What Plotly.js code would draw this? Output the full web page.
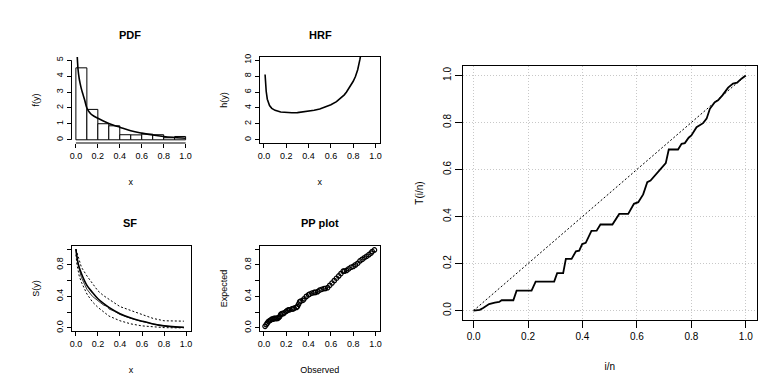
<!DOCTYPE html>
<html>
<head>
<meta charset="utf-8">
<script src="https://cdn.plot.ly/plotly-3.0.1.min.js"></script>
<style>
  html, body { margin: 0; padding: 0; background: #fff; }
  #graph { width: 781px; height: 388px; }
</style>
</head>
<body>
<div id="graph"></div>
<script>
// histogram (density) of the data, bins of width 0.1
const histMid = [0.05, 0.15, 0.25, 0.35, 0.45, 0.55, 0.65, 0.75, 0.85, 0.95];
const histDensity = [4.52, 1.91, 1.01, 0.88, 0.32, 0.31, 0.36, 0.32, 0.13, 0.21];

// fitted pdf
const pdfX = [0.01, 0.015, 0.02, 0.03, 0.04, 0.05, 0.06, 0.08, 0.10, 0.125, 0.15, 0.2, 0.25, 0.3, 0.35, 0.4, 0.5, 0.6, 0.7, 0.8, 0.9, 1.0];
const pdfY = [5.6, 4.9, 4.4, 3.85, 3.5, 3.2, 2.95, 2.5, 2.0, 1.72, 1.55, 1.35, 1.18, 1.03, 0.9, 0.79, 0.57, 0.42, 0.3, 0.21, 0.15, 0.1];

// hazard rate function
const hrfX = [0.01, 0.015, 0.02, 0.03, 0.04, 0.05, 0.07, 0.1, 0.15, 0.2, 0.25, 0.3, 0.35, 0.4, 0.45, 0.5, 0.55, 0.6, 0.65,
  0.7, 0.72, 0.74, 0.76, 0.78, 0.8, 0.82, 0.84, 0.86, 0.88];
const hrfY = [8.2, 7.0, 6.1, 5.1, 4.6, 4.3, 3.95, 3.7, 3.5, 3.42, 3.4, 3.42, 3.5, 3.6, 3.72, 3.88, 4.1, 4.4, 4.8,
  5.35, 5.65, 6.0, 6.4, 6.85, 7.35, 7.95, 8.8, 10.1, 11.6];

// survival function: fitted, empirical and bands
const sfX = [0, 0.02, 0.05, 0.1, 0.15, 0.2, 0.25, 0.3, 0.4, 0.5, 0.6, 0.7, 0.8, 0.9, 0.98];
const sfFit = [1.0, 0.82, 0.69, 0.54, 0.45, 0.37, 0.31, 0.26, 0.18, 0.125, 0.085, 0.05, 0.025, 0.012, 0.008];
const empX = [0, 0.02, 0.05, 0.1, 0.15, 0.2, 0.25, 0.29, 0.3, 0.35, 0.4, 0.5, 0.6, 0.7, 0.8, 0.9, 0.98];
const empY = [1.0, 0.8, 0.64, 0.49, 0.40, 0.34, 0.29, 0.27, 0.24, 0.21, 0.17, 0.12, 0.08, 0.05, 0.025, 0.01, 0.005];
const upX = [0, 0.01, 0.05, 0.1, 0.15, 0.2, 0.25, 0.3, 0.4, 0.5, 0.6, 0.7, 0.8, 0.9, 0.98];
const upY = [1.0, 0.95, 0.77, 0.66, 0.56, 0.47, 0.41, 0.36, 0.27, 0.22, 0.17, 0.12, 0.09, 0.085, 0.085];
const lowX = [0, 0.01, 0.03, 0.05, 0.1, 0.15, 0.2, 0.25, 0.3, 0.4, 0.5, 0.6, 0.7, 0.8, 0.9, 0.98];
const lowY = [0.93, 0.8, 0.66, 0.58, 0.43, 0.33, 0.26, 0.2, 0.15, 0.09, 0.05, 0.025, 0.01, 0.003, 0.0, 0.0];

// PP plot
const observed = [0.01, 0.02, 0.03, 0.04, 0.05, 0.06, 0.07, 0.08, 0.09, 0.10, 0.11, 0.12, 0.13, 0.14, 0.15, 0.16, 0.17, 0.18, 0.20, 0.21,
  0.22, 0.23, 0.25, 0.26, 0.27, 0.29, 0.30, 0.31, 0.32, 0.33, 0.35, 0.36, 0.38, 0.40, 0.41, 0.43, 0.45, 0.46, 0.48, 0.50,
  0.52, 0.54, 0.55, 0.57, 0.59, 0.61, 0.63, 0.65, 0.67, 0.69, 0.71, 0.72, 0.74, 0.76, 0.78, 0.80, 0.82, 0.84, 0.86, 0.88,
  0.90, 0.92, 0.94, 0.96, 0.97, 0.99];
const expected = [0.02, 0.04, 0.06, 0.08, 0.09, 0.10, 0.11, 0.11, 0.12, 0.12, 0.12, 0.12, 0.13, 0.14, 0.17, 0.18, 0.18, 0.19, 0.21, 0.22,
  0.23, 0.23, 0.24, 0.24, 0.25, 0.26, 0.27, 0.30, 0.33, 0.34, 0.35, 0.37, 0.40, 0.42, 0.43, 0.44, 0.45, 0.45, 0.46, 0.48,
  0.49, 0.50, 0.50, 0.51, 0.54, 0.57, 0.60, 0.63, 0.66, 0.69, 0.72, 0.72, 0.73, 0.75, 0.77, 0.78, 0.80, 0.82, 0.85, 0.87,
  0.89, 0.91, 0.93, 0.95, 0.97, 0.99];

// TTT plot
const tttX = [0, 0.023, 0.035, 0.057, 0.078, 0.094, 0.103, 0.146, 0.158, 0.213, 0.228, 0.296, 0.307, 0.329, 0.339, 0.36, 0.376, 0.388,
  0.399, 0.412, 0.433, 0.452, 0.466, 0.51, 0.535, 0.568, 0.589, 0.605, 0.623, 0.638, 0.65, 0.706, 0.717, 0.751, 0.764, 0.776,
  0.79, 0.8, 0.819, 0.843, 0.856, 0.868, 0.886, 0.898, 0.914, 0.935, 0.953, 0.968, 0.984, 0.996, 1.0];
const tttY = [0, 0.003, 0.011, 0.028, 0.034, 0.037, 0.044, 0.044, 0.085, 0.085, 0.123, 0.123, 0.159, 0.159, 0.22, 0.22, 0.252, 0.255,
  0.283, 0.288, 0.339, 0.34, 0.366, 0.366, 0.411, 0.411, 0.454, 0.461, 0.494, 0.546, 0.553, 0.627, 0.685, 0.685, 0.709, 0.712,
  0.735, 0.745, 0.78, 0.797, 0.816, 0.858, 0.886, 0.894, 0.915, 0.948, 0.965, 0.969, 0.986, 0.997, 1.0];
const refLine = [0, 1];

const unitTicks = [0, 0.2, 0.4, 0.6, 0.8, 1.0];
const unitText = ['0.0', '0.2', '0.4', '0.6', '0.8', '1.0'];
const sparseText = ['0.0', '', '0.4', '', '0.8', ''];

const W = 781, H = 388;
const fx = (a, b) => [a / W, b / W];
const fy = (top, bottom) => [1 - bottom / H, 1 - top / H];

function axis(domain, range, vals, text, extra) {
    return Object.assign({
        domain: domain,
        range: range,
        tickmode: 'array',
        tickvals: vals,
        ticktext: text,
        ticks: 'outside',
        ticklen: 4,
        tickwidth: 1,
        tickcolor: '#000',
        showline: true,
        mirror: true,
        linecolor: '#000',
        linewidth: 1,
        showgrid: false,
        zeroline: false,
        fixedrange: true
    }, extra || {});
}

const black = '#000';
const traces = [
    {type: 'bar', x: histMid, y: histDensity, width: 0.1, xaxis: 'x', yaxis: 'y',
     marker: {color: '#fff', line: {color: black, width: 1}}},
    {type: 'scatter', mode: 'lines', x: pdfX, y: pdfY, xaxis: 'x', yaxis: 'y',
     line: {color: black, width: 1.6, shape: 'spline'}},

    {type: 'scatter', mode: 'lines', x: hrfX, y: hrfY, xaxis: 'x2', yaxis: 'y2',
     line: {color: black, width: 1.6}},

    {type: 'scatter', mode: 'lines', x: upX, y: upY, xaxis: 'x3', yaxis: 'y3',
     line: {color: black, width: 1, dash: '2px,2px'}},
    {type: 'scatter', mode: 'lines', x: lowX, y: lowY, xaxis: 'x3', yaxis: 'y3',
     line: {color: black, width: 1, dash: '2px,2px'}},
    {type: 'scatter', mode: 'lines', x: empX, y: empY, xaxis: 'x3', yaxis: 'y3',
     line: {color: black, width: 0.8}},
    {type: 'scatter', mode: 'lines', x: sfX, y: sfFit, xaxis: 'x3', yaxis: 'y3',
     line: {color: black, width: 1.6, shape: 'spline'}},

    {type: 'scatter', mode: 'lines+markers', x: observed, y: expected, xaxis: 'x4', yaxis: 'y4',
     line: {color: '#aaa', width: 0.6},
     marker: {symbol: 'circle-open', size: 4.5, color: black, line: {width: 1.2}}},

    {type: 'scatter', mode: 'lines', x: refLine, y: refLine, xaxis: 'x5', yaxis: 'y5',
     line: {color: black, width: 1, dash: '2px,2px'}},
    {type: 'scatter', mode: 'lines', x: tttX, y: tttY, xaxis: 'x5', yaxis: 'y5',
     line: {color: black, width: 1.8}}
];

const small = {size: 9};
const titleFont = {size: 9};
const layout = {
    width: W, height: H,
    margin: {l: 0, r: 0, t: 0, b: 0},
    paper_bgcolor: '#fff',
    plot_bgcolor: '#fff',
    showlegend: false,
    font: {family: 'Liberation Sans, Arial, sans-serif', size: 9, color: '#000'},

    // PDF (no box, R-style axes drawn as shapes)
    xaxis: axis(fx(71.5, 190), [-0.04, 1.04], unitTicks, unitText,
        {anchor: 'y', showline: false, mirror: false, tickfont: small,
         title: {text: 'x', font: titleFont, standoff: 18}}),
    yaxis: axis(fy(57, 143), [-0.2, 5.2], [0, 1, 2, 3, 4, 5], ['0', '1', '2', '3', '4', '5'],
        {anchor: 'x', showline: false, mirror: false, tickangle: -90, tickfont: small,
         title: {text: 'f(y)', font: titleFont, standoff: 13}}),

    // HRF
    xaxis2: axis(fx(259.5, 380), [-0.04, 1.04], unitTicks, unitText,
        {anchor: 'y2', tickfont: small, title: {text: 'x', font: titleFont, standoff: 18}}),
    yaxis2: axis(fy(57, 143), [-0.4, 10.4], [0, 2, 4, 6, 8, 10], ['0', '2', '4', '6', '8', '10'],
        {anchor: 'x2', tickangle: -90, tickfont: small, title: {text: 'h(y)', font: titleFont, standoff: 13}}),

    // SF
    xaxis3: axis(fx(71.5, 190.5), [-0.04, 1.04], unitTicks, unitText,
        {anchor: 'y3', tickfont: small, title: {text: 'x', font: titleFont, standoff: 18}}),
    yaxis3: axis(fy(246, 331), [-0.04, 1.04], unitTicks, sparseText,
        {anchor: 'x3', tickangle: -90, tickfont: small, title: {text: 'S(y)', font: titleFont, standoff: 13}}),

    // PP plot
    xaxis4: axis(fx(259.5, 380), [-0.04, 1.04], unitTicks, unitText,
        {anchor: 'y4', tickfont: small, title: {text: 'Observed', font: titleFont, standoff: 18}}),
    yaxis4: axis(fy(246, 331), [-0.04, 1.04], unitTicks, sparseText,
        {anchor: 'x4', tickangle: -90, tickfont: small, title: {text: 'Expected', font: titleFont, standoff: 13}}),

    // TTT plot
    xaxis5: axis(fx(462.7, 756.7), [-0.04, 1.04], unitTicks, unitText,
        {anchor: 'y5', ticklen: 7, tickfont: {size: 10}, showgrid: true, griddash: '1px,2px',
         gridcolor: '#c8c8c8', gridwidth: 1, title: {text: 'i/n', font: {size: 10}, standoff: 21}}),
    yaxis5: axis(fy(66, 320), [-0.04, 1.04], unitTicks, unitText,
        {anchor: 'x5', ticklen: 7, tickangle: -90, tickfont: {size: 10}, showgrid: true, griddash: '1px,2px',
         gridcolor: '#c8c8c8', gridwidth: 1, title: {text: 'T(i/n)', font: {size: 10}, standoff: 16}}),

    shapes: [
        {type: 'line', xref: 'x', yref: 'y domain', x0: 0, x1: 1, y0: 0, y1: 0,
         line: {color: black, width: 1}},
        {type: 'line', xref: 'x domain', yref: 'y', x0: 0, x1: 0, y0: 0, y1: 5,
         line: {color: black, width: 1}}
    ],

    annotations: [
        {text: '<b>PDF</b>', x: 130 / W, y: 1 - 35 / H},
        {text: '<b>HRF</b>', x: 320 / W, y: 1 - 35 / H},
        {text: '<b>SF</b>', x: 130 / W, y: 1 - 223 / H},
        {text: '<b>PP plot</b>', x: 320 / W, y: 1 - 223 / H}
    ].map(a => Object.assign({xref: 'paper', yref: 'paper', showarrow: false,
        xanchor: 'center', yanchor: 'middle', font: {size: 11}}, a))
};

Plotly.newPlot('graph', traces, layout, {staticPlot: true, displayModeBar: false});
</script>
</body>
</html>
